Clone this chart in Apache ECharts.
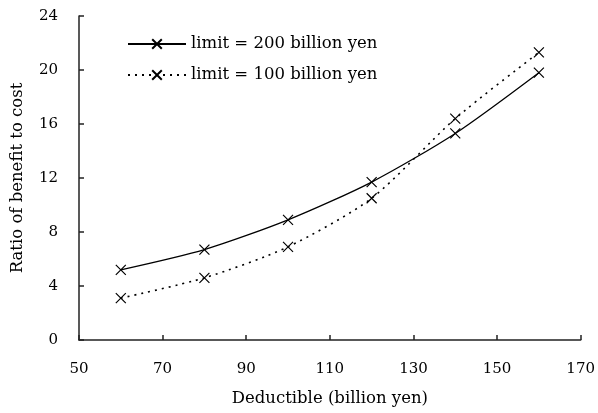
<!DOCTYPE html>
<html>
<head>
<meta charset="utf-8">
<script src="https://cdn.jsdelivr.net/npm/echarts@6/dist/echarts.min.js"></script>
<style>html,body{margin:0;padding:0;background:#fff}#c{width:598px;height:413px}</style>
</head>
<body>
<div id="c"></div>
<script>
var deductibles = [60, 80, 100, 120, 140, 160];
var limit200 = [5.2, 6.7, 8.9, 11.7, 15.3, 19.8];
var limit100 = [3.1, 4.6, 6.9, 10.5, 16.4, 21.3];
var seriesNames = ['limit = 200 billion yen', 'limit = 100 billion yen'];
var xTicks = {min: 50, max: 170, interval: 20};
var yTicks = {min: 0, max: 24, interval: 4};

function pairs(xs, ys) { return xs.map(function (x, i) { return [x, ys[i]]; }); }

var FONT = 'DejaVu Serif';
var cross = 'path://M0,0L10,10M10,0L0,10';
var chart = echarts.init(document.getElementById('c'));
chart.setOption({
  animation: false,
  textStyle: {fontFamily: FONT, color: '#000'},
  grid: {left: 79, right: 15, top: 16, bottom: 73},
  legend: {
    orient: 'vertical', left: 122, top: 30, itemGap: 13,
    itemWidth: 58, itemHeight: 12,
    textStyle: {fontFamily: FONT, fontSize: 16.5, color: '#000', lineHeight: 18},
    data: seriesNames
  },
  xAxis: {
    type: 'value', min: xTicks.min, max: xTicks.max, interval: xTicks.interval,
    name: 'Deductible (billion yen)', nameLocation: 'middle', nameGap: 50,
    nameTextStyle: {fontFamily: FONT, fontSize: 16.5, color: '#000'},
    axisLine: {lineStyle: {color: '#222', width: 1.5}},
    axisTick: {inside: true, length: 5, lineStyle: {color: '#222', width: 1.5}},
    axisLabel: {fontFamily: FONT, fontSize: 15, color: '#000', margin: 22},
    splitLine: {show: false}
  },
  yAxis: {
    type: 'value', min: yTicks.min, max: yTicks.max, interval: yTicks.interval,
    name: 'Ratio of benefit to cost', nameLocation: 'middle', nameGap: 53,
    nameTextStyle: {fontFamily: FONT, fontSize: 16.5, color: '#000'},
    axisLine: {show: true, lineStyle: {color: '#222', width: 1.5}},
    axisTick: {show: true, inside: true, length: 5, lineStyle: {color: '#222', width: 1.5}},
    axisLabel: {fontFamily: FONT, fontSize: 15, color: '#000', margin: 21},
    splitLine: {show: false}
  },
  series: [
    {
      name: seriesNames[0], type: 'line', smooth: 0.25,
      data: pairs(deductibles, limit200),
      symbol: cross, symbolSize: 10,
      itemStyle: {color: '#000', borderColor: '#000', borderWidth: 1.2},
      lineStyle: {color: '#000', width: 1.3, type: 'solid'}
    },
    {
      name: seriesNames[1], type: 'line', smooth: 0.25,
      data: pairs(deductibles, limit100),
      symbol: cross, symbolSize: 10,
      itemStyle: {color: '#000', borderColor: '#000', borderWidth: 1.2},
      lineStyle: {color: '#000', width: 1.6, type: [2, 5]}
    }
  ]
});
</script>
</body>
</html>
